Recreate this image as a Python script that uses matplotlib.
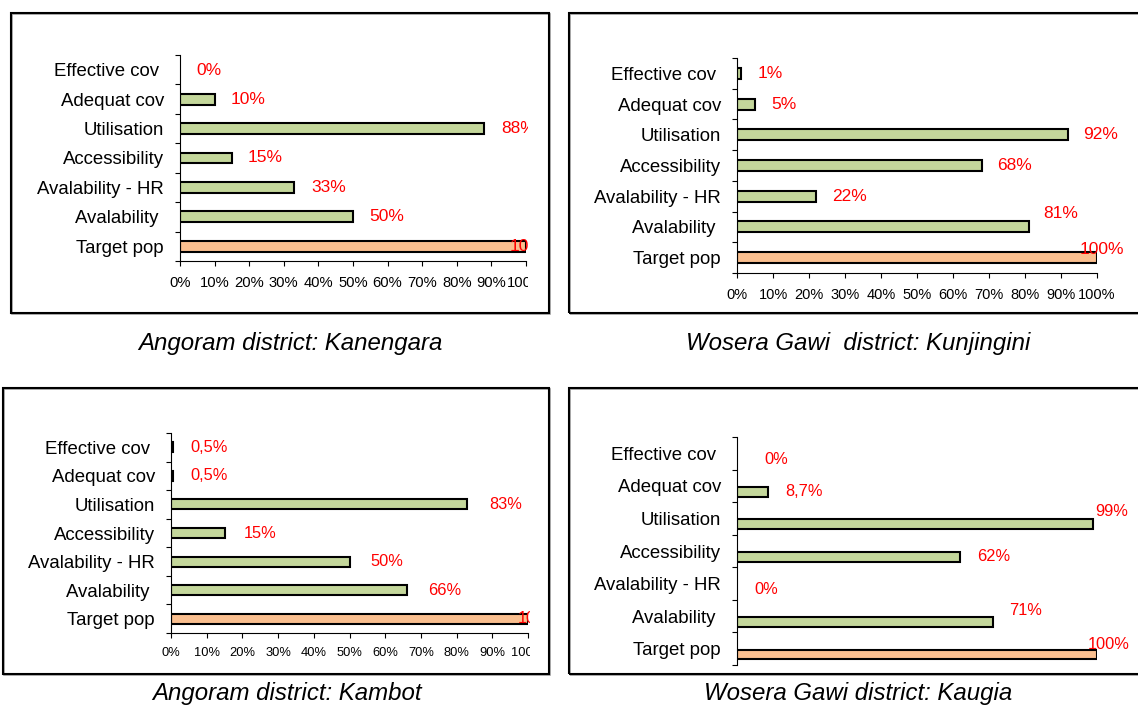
import numpy as np
import matplotlib
matplotlib.use('Agg')
import matplotlib.pyplot as plt
from matplotlib import font_manager
from matplotlib.patches import Rectangle
from matplotlib.transforms import Bbox, TransformedBbox

W, H = 1138, 705

categories = ['Effective cov ', 'Adequat cov', 'Utilisation', 'Accessibility',
              'Avalability - HR', 'Avalability ', 'Target pop']
xtick_labels = ['0%', '10%', '20%', '30%', '40%', '50%', '60%', '70%', '80%', '90%', '100%']

# coverage values (%) per health centre, same order as categories
kanengara = [0, 10, 88, 15, 33, 50, 100]
kanengara_txt = ['0%', '10%', '88%', '15%', '33%', '50%', '100%']
kunjingini = [1, 5, 92, 68, 22, 81, 100]
kunjingini_txt = ['1%', '5%', '92%', '68%', '22%', '81%', '100%']
kambot = [0.5, 0.5, 83, 15, 50, 66, 100]
kambot_txt = ['0,5%', '0,5%', '83%', '15%', '50%', '66%', '100%']
kaugia = [0, 8.7, 99, 62, 0, 71, 100]
kaugia_txt = ['0%', '8,7%', '99%', '62%', '0%', '71%', '100%']

titles = ['Angoram district: Kanengara', 'Wosera Gawi  district: Kunjingini',
          'Angoram district: Kambot', 'Wosera Gawi district: Kaugia']

GREEN = '#C4D79B'
PEACH = '#FABF8F'

# narrow font if the system has one, else shrink the regular one
names = {f.name for f in font_manager.fontManager.ttflist}
HAS_NARROW = 'Liberation Sans Narrow' in names


def narrow(size):
    if HAS_NARROW:
        return dict(family='Liberation Sans Narrow', fontsize=size)
    return dict(family='Liberation Sans', fontsize=size * 0.84)


def regular(size):
    return dict(family='Liberation Sans', fontsize=size)


def px_rect(x0, y0, x1, y1):
    return [x0 / W, 1 - y1 / H, (x1 - x0) / W, (y1 - y0) / H]


PT = 0.72  # points per pixel at dpi 100

panels = [
    dict(vals=kanengara, txt=kanengara_txt, title=titles[0],
         ax=(180, 55, 526, 261), frame=(11, 13, 549, 313), clip=528, title_xy=(290, 350),
         tick_font=narrow(12.7), tick_pad=7, lbl_font=regular(12.5),
         dx=[16, 16, 17, 16, 17, 16, -16], dy=[-1, 0, 0, 0, 0, 0, 0],
         bar_h=0.37, shift=0.0, xaxis=True),
    dict(vals=kunjingini, txt=kunjingini_txt, title=titles[1],
         ax=(737, 58, 1097, 273), frame=(569, 13, 1150, 313), clip=None, title_xy=(858, 350),
         tick_font=narrow(12.5), tick_pad=7.5, lbl_font=regular(12.5),
         dx=[17, 16, 15, 15, 16, 15, -17], dy=[0, 0, 0, 0, 0, 13, 8],
         bar_h=0.36, shift=0.0, xaxis=True),
    dict(vals=kambot, txt=kambot_txt, title=titles[2],
         ax=(171, 433, 528, 633), frame=(3, 388, 549, 674), clip=530, title_xy=(287, 700),
         tick_font=narrow(11), tick_pad=6.5, lbl_font=narrow(14),
         dx=[18, 18, 22, 19, 21, 22, -10], dy=[0, 0, 0, 0, 0, 0, 0],
         bar_h=0.35, shift=0.0, xaxis=True),
    dict(vals=kaugia, txt=kaugia_txt, title=titles[3],
         ax=(737, 437, 1097, 665), frame=(569, 388, 1150, 674), clip=None, title_xy=(858, 700),
         tick_font=narrow(11), tick_pad=6.5, lbl_font=narrow(14),
         dx=[27, 17, 2, 17, 17, 17, -9], dy=[0, 0, 13, 0, 0, 12, 10],
         bar_h=0.30, shift=0.18, xaxis=False),
]

fig = plt.figure(figsize=(W / 100, H / 100), dpi=100)
fig.patch.set_facecolor('white')

y = np.arange(len(categories))

for p in panels:
    # chart frame with a faint shadow
    fx0, fy0, fx1, fy1 = p['frame']
    fig.patches.append(Rectangle((fx0 / W + 1 / W, 1 - fy1 / H - 1 / H), (fx1 - fx0) / W, (fy1 - fy0) / H,
                                 transform=fig.transFigure, fill=False, edgecolor='#a0a0a0', linewidth=1.2))
    fig.patches.append(Rectangle((fx0 / W, 1 - fy1 / H), (fx1 - fx0) / W, (fy1 - fy0) / H,
                                 transform=fig.transFigure, fill=False, edgecolor='black', linewidth=1.5))

    ax = fig.add_axes(px_rect(*p['ax']))
    ax.set_facecolor('none')
    vals = p['vals']
    colors = [PEACH if c == 'Target pop' else GREEN for c in categories]
    lws = [1.5 if v > 0 else 0 for v in vals]
    ax.barh(y + p['shift'], vals, height=p['bar_h'], color=colors, edgecolor='black', linewidth=lws)

    ax.set_xlim(0, 100)
    ax.set_ylim(len(categories) - 0.5, -0.5)
    for s in ['top', 'right']:
        ax.spines[s].set_visible(False)
    ax.spines['left'].set_linewidth(0.8)
    ax.spines['bottom'].set_linewidth(0.8)

    # category ticks between bars, labels in the middle
    ax.set_yticks(np.arange(-0.5, len(categories), 1))
    ax.set_yticks(y, categories, minor=True, color='black', **regular(13.4))
    ax.tick_params(axis='y', which='major', length=3.6, width=0.8, direction='out', labelleft=False)
    ax.tick_params(axis='y', which='minor', length=0, pad=11.5)

    clipbox = None
    if p['clip'] is not None:
        clipbox = TransformedBbox(Bbox.from_extents(0, 0, p['clip'] / W, 1), fig.transFigure)

    if p['xaxis']:
        ax.set_xticks(np.arange(0, 101, 10), xtick_labels, color='black', **p['tick_font'])
        ax.tick_params(axis='x', length=3.6, width=0.8, direction='out', pad=p['tick_pad'])
        if clipbox is not None:
            for lbl in ax.get_xticklabels():
                lbl.set_clip_box(clipbox)
                lbl.set_clip_on(True)
    else:
        ax.spines['bottom'].set_visible(False)
        ax.set_xticks([])

    # red value labels
    for i, (v, t) in enumerate(zip(vals, p['txt'])):
        a = ax.annotate(t, xy=(v, y[i] + p['shift']), xytext=(p['dx'][i] * PT, p['dy'][i] * PT),
                        textcoords='offset points', ha='left', va='center', color='#FF0000',
                        annotation_clip=False, **p['lbl_font'])
        if clipbox is not None:
            a.set_clip_box(clipbox)
            a.set_clip_on(True)

    tx, ty = p['title_xy']
    fig.text(tx / W, 1 - ty / H, p['title'], ha='center', va='baseline',
             style='italic', color='black', **narrow(20.6))

fig.savefig('out.png', dpi=100, facecolor='white')
